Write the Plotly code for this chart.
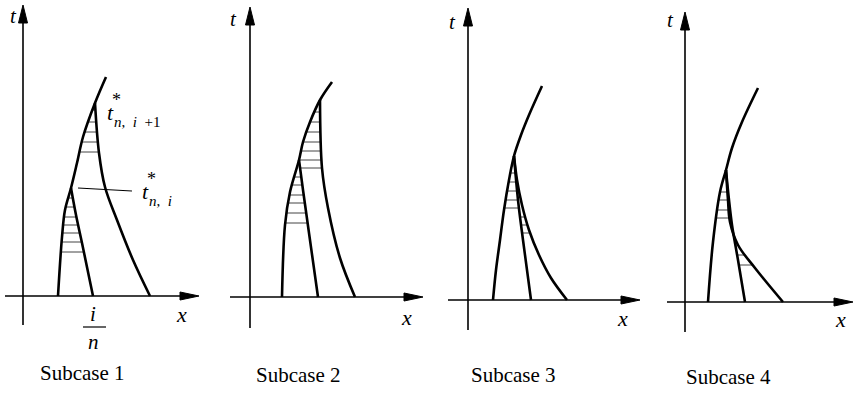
import numpy as np
import plotly.graph_objects as go

W, H = 858, 394
SERIF = "Liberation Serif, Times New Roman, serif"

# ---- axes of the four panels (diagram coordinates, y grows downward) ----
axis_x0 = [23, 250, 468, 685]
axis_y0 = [296, 297, 300, 302]
axis_top = [5, 7, 8, 12]
axis_bottom = [325, 328, 330, 332]
axis_left = [5, 230, 448, 667]
axis_right = [199, 423, 640, 853]

# ---- the three boundary curves of every subcase ----
left_curves = [
    [(58, 296), (62, 237), (65, 210), (71, 188), (77, 163), (83, 137), (95, 103), (106, 77)],
    [(282, 297), (285, 225), (290, 192), (299, 160), (303, 142), (310, 122), (320, 100), (332, 82)],
    [(493, 300), (496, 270), (500, 240), (504, 210), (509, 180), (514, 156), (521, 135), (529, 115), (542, 86)],
    [(708, 302), (713, 242), (720, 192), (726, 170), (732, 148), (742, 122), (758, 88)],
]
mid_curves = [
    [(71, 188), (76, 215), (82, 243), (93, 296)],
    [(299, 160), (303, 190), (309, 233), (318, 297)],
    [(514, 156), (518, 200), (523, 240), (531, 300)],
    [(726, 170), (729, 200), (732, 225), (738, 260), (745, 302)],
]
right_curves = [
    [(95, 103), (99, 153), (105, 187), (117, 220), (133, 260), (150, 296)],
    [(320, 100), (322, 168), (328, 208), (340, 258), (355, 297)],
    [(514, 156), (517, 180), (522, 205), (529, 230), (539, 255), (551, 278), (567, 300)],
    [(726, 170), (728, 200), (730, 222), (738, 245), (755, 268), (783, 302)],
]

# ---- hatching: (y level, bounding curve on the left, bounding curve on the right) ----
hatches = [
    [(110, "L", "R"), (122, "L", "R"), (132, "L", "R"), (142, "L", "R"), (152, "L", "R"),
     (198, "L", "M"), (207, "L", "M"), (217, "L", "M"), (225, "L", "M"), (233, "L", "M"), (242, "L", "M"), (252, "L", "M")],
    [(112, "L", "R"), (122, "L", "R"), (132, "L", "R"), (142, "L", "R"), (151, "L", "R"), (160, "M", "R"), (168, "M", "R"),
     (177, "L", "M"), (185, "L", "M"), (195, "L", "M"), (203, "L", "M"), (213, "L", "M"), (223, "L", "M")],
    [(173, "L", "M"), (182, "L", "M"), (191, "L", "M"), (200, "L", "M"), (208, "L", "M"),
     (217, "M", "R"), (225, "M", "R"), (233, "M", "R")],
    [(192, "L", "M"), (200, "L", "M"), (210, "L", "M"), (218, "L", "M"),
     (245, "M", "R"), (255, "M", "R"), (265, "M", "R")],
]

subcase_labels = ["Subcase 1", "Subcase 2", "Subcase 3", "Subcase 4"]
subcase_pos = [(82, 373), (298, 375), (513, 375), (728, 377)]
t_label_pos = [(13, 16), (233, 19), (452, 22), (670, 20)]
x_label_pos = [(181, 314), (406, 317), (622, 318), (840, 319)]

fig = go.Figure()


def add_line(xs, ys, width, color="black", shape="linear"):
    fig.add_trace(go.Scatter(x=xs, y=ys, mode="lines", hoverinfo="skip", showlegend=False,
                             line=dict(color=color, width=width, shape=shape, smoothing=1.0)))


def add_tri(pts):
    xs = [p[0] for p in pts] + [pts[0][0]]
    ys = [p[1] for p in pts] + [pts[0][1]]
    fig.add_trace(go.Scatter(x=xs, y=ys, mode="lines", fill="toself", fillcolor="black",
                             line=dict(color="black", width=1), hoverinfo="skip", showlegend=False))


def x_at(curve, y):
    pts = sorted(curve, key=lambda p: p[1])
    return float(np.interp(y, [p[1] for p in pts], [p[0] for p in pts]))


for k in range(4):
    x0, y0 = axis_x0[k], axis_y0[k]
    # axes
    add_line([x0, x0], [axis_bottom[k], axis_top[k] + 10], 1.6)
    add_line([axis_left[k], axis_right[k] - 10], [y0, y0], 1.6)
    add_tri([(x0, axis_top[k]), (x0 - 4.5, axis_top[k] + 18), (x0 + 4.5, axis_top[k] + 18)])
    add_tri([(axis_right[k], y0), (axis_right[k] - 19, y0 - 4), (axis_right[k] - 19, y0 + 4)])

    # hatching
    curves = {"L": left_curves[k], "M": mid_curves[k], "R": right_curves[k]}
    for (yh, a, b) in hatches[k]:
        add_line([x_at(curves[a], yh), x_at(curves[b], yh)], [yh, yh], 1.0, color="#444")

    # boundary curves
    for c in (left_curves[k], mid_curves[k], right_curves[k]):
        add_line([p[0] for p in c], [p[1] for p in c], 2.6, shape="spline")

# pointer for t*_{n,i} in subcase 1
add_line([78, 132], [188, 191], 1.2)
# fraction line under i
add_line([83, 106], [327, 327], 1.2)

ann = []


def txt(x, y, s, size, xanchor="center"):
    ann.append(dict(x=x, y=y, xref="x", yref="y", text=s, showarrow=False, xanchor=xanchor,
                    yanchor="middle", font=dict(family=SERIF, size=size, color="black")))


for k in range(4):
    txt(*t_label_pos[k], "<i>t</i>", 21)
    txt(*x_label_pos[k], "<i>x</i>", 22)
    txt(*subcase_pos[k], subcase_labels[k], 21)

# t*_{n, i+1}
txt(110, 112, "<i>t</i>", 22)
txt(116, 100, "*", 18)
txt(112, 122, "<i>n</i>,  <i>i</i>  +1", 15, xanchor="left")
# t*_{n, i}
txt(145, 191, "<i>t</i>", 22)
txt(151, 179, "*", 18)
txt(147, 201, "<i>n</i>,  <i>i</i>", 15, xanchor="left")
# i / n
txt(93, 314, "<i>i</i>", 21)
txt(93, 342, "<i>n</i>", 21)

fig.update_layout(
    width=W, height=H, margin=dict(l=0, r=0, t=0, b=0),
    paper_bgcolor="white", plot_bgcolor="white", annotations=ann,
    xaxis=dict(range=[0, W], visible=False, fixedrange=True),
    yaxis=dict(range=[H, 0], visible=False, fixedrange=True),
)
fig.write_html("out.html", config={"displayModeBar": False},
               post_script="document.body.style.margin='0';document.body.style.overflow='hidden';")
